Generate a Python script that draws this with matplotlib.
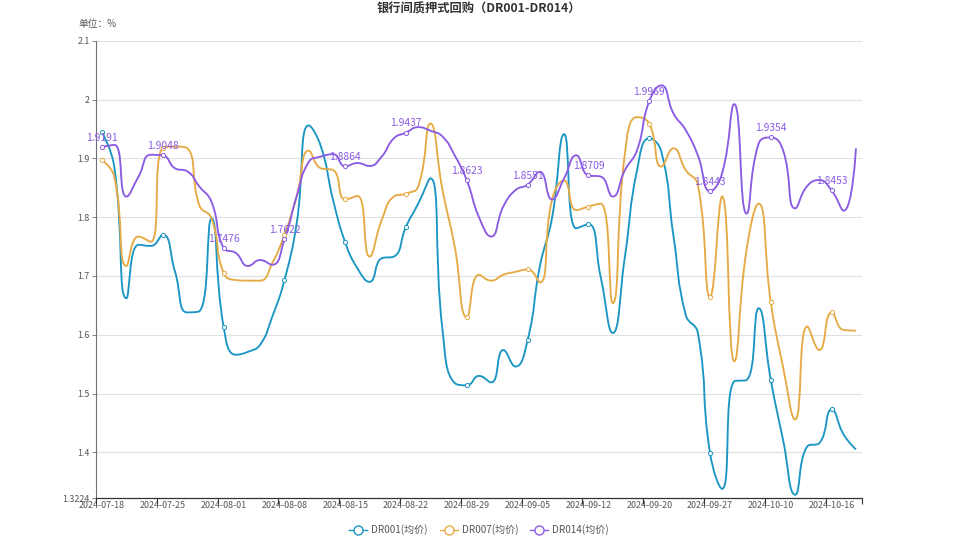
"""银行间质押式回购 DR001/DR007/DR014 走势图"""
import matplotlib
matplotlib.use("Agg")
import matplotlib.pyplot as plt
import numpy as np
from matplotlib.path import Path
from matplotlib.patches import PathPatch
from matplotlib.lines import Line2D

plt.rcParams["font.family"] = ["Noto Sans CJK SC", "DejaVu Sans"]

# ── 数据 ──
dates = [
    "2024-07-18", "2024-07-19", "2024-07-22", "2024-07-23", "2024-07-24",
    "2024-07-25", "2024-07-26", "2024-07-29", "2024-07-30", "2024-07-31",
    "2024-08-01", "2024-08-02", "2024-08-05", "2024-08-06", "2024-08-07",
    "2024-08-08", "2024-08-09", "2024-08-12", "2024-08-13", "2024-08-14",
    "2024-08-15", "2024-08-16", "2024-08-19", "2024-08-20", "2024-08-21",
    "2024-08-22", "2024-08-23", "2024-08-26", "2024-08-27", "2024-08-28",
    "2024-08-29", "2024-08-30", "2024-09-02", "2024-09-03", "2024-09-04",
    "2024-09-05", "2024-09-06", "2024-09-09", "2024-09-10", "2024-09-11",
    "2024-09-12", "2024-09-13", "2024-09-14", "2024-09-18", "2024-09-19",
    "2024-09-20", "2024-09-23", "2024-09-24", "2024-09-25", "2024-09-26",
    "2024-09-27", "2024-09-29", "2024-09-30", "2024-10-08", "2024-10-09",
    "2024-10-10", "2024-10-11", "2024-10-12", "2024-10-14", "2024-10-15",
    "2024-10-16", "2024-10-17", "2024-10-18",
]

dr001 = [
    1.944, 1.886, 1.662, 1.753, 1.751, 1.770, 1.707, 1.638, 1.640, 1.798,
    1.613, 1.566, 1.571, 1.583, 1.631, 1.693, 1.789, 1.956, 1.920, 1.829,
    1.757, 1.713, 1.690, 1.730, 1.733, 1.784, 1.823, 1.866, 1.608, 1.518,
    1.514, 1.530, 1.519, 1.574, 1.546, 1.591, 1.716, 1.798, 1.941, 1.781,
    1.788, 1.699, 1.603, 1.733, 1.880, 1.934, 1.911, 1.767, 1.634, 1.603,
    1.399, 1.338, 1.521, 1.523, 1.645, 1.523, 1.422, 1.328, 1.410, 1.416,
    1.473, 1.430, 1.405,
]

dr007 = [
    1.897, 1.869, 1.717, 1.767, 1.758, 1.918, 1.920, 1.917, 1.820, 1.798,
    1.705, 1.693, 1.692, 1.692, 1.722, 1.770, 1.835, 1.913, 1.883, 1.880,
    1.830, 1.836, 1.733, 1.795, 1.835, 1.840, 1.852, 1.959, 1.846, 1.750,
    1.630, 1.702, 1.692, 1.702, 1.707, 1.711, 1.689, 1.829, 1.862, 1.812,
    1.818, 1.823, 1.654, 1.908, 1.970, 1.959, 1.886, 1.917, 1.880, 1.855,
    1.665, 1.835, 1.555, 1.744, 1.823, 1.655, 1.546, 1.456, 1.614, 1.574,
    1.638, 1.608, 1.607,
]

dr014 = [
    1.9191, 1.923, 1.835, 1.869, 1.906, 1.9048, 1.883, 1.878, 1.852, 1.826,
    1.7476, 1.739, 1.717, 1.727, 1.719, 1.7622, 1.835, 1.894, 1.903, 1.907,
    1.8864, 1.892, 1.887, 1.903, 1.934, 1.9437, 1.953, 1.947, 1.937, 1.905,
    1.8623, 1.800, 1.767, 1.818, 1.846, 1.8551, 1.877, 1.830, 1.866, 1.905,
    1.8709, 1.869, 1.835, 1.880, 1.914, 1.9969, 2.024, 1.976, 1.948, 1.905,
    1.8443, 1.875, 1.992, 1.806, 1.925, 1.9354, 1.914, 1.815, 1.853, 1.863,
    1.8453, 1.811, 1.917,
]

series = [
    ("DR001(均价)", dr001, "#1b96c3"),
    ("DR007(均价)", dr007, "#e6aa45"),
    ("DR014(均价)", dr014, "#8b5be3"),
]

y_ticks = [1.3224, 1.4, 1.5, 1.6, 1.7, 1.8, 1.9, 2.0, 2.1]
y_tick_labels = ["1.3224", "1.4", "1.5", "1.6", "1.7", "1.8", "1.9", "2", "2.1"]
y_min, y_max = 1.3224, 2.1
label_step = 5

n = len(dates)
x = np.arange(n)

fig = plt.figure(figsize=(9.58, 5.39), dpi=100)
ax = fig.add_axes([96 / 958, 1 - 498 / 539, 766 / 958, (498 - 40.7) / 539])
ax.set_xlim(-0.5, n - 0.5)
ax.set_ylim(y_min, y_max)

# 像素比例（用于平滑曲线控制点计算）
sx = 766 / n
sy = (498 - 40.7) / (y_max - y_min)


def smooth_path(xs, ys, smooth=0.5):
    """echarts 风格的平滑贝塞尔曲线"""
    px = np.asarray(xs, float) * sx
    py = np.asarray(ys, float) * sy
    verts = [(px[0], py[0])]
    codes = [Path.MOVETO]
    cp0x, cp0y = px[0], py[0]
    m = len(px)
    for k in range(1, m):
        x0, y0 = px[k], py[k]
        prx, pry = px[k - 1], py[k - 1]
        if k == m - 1:
            cp1x, cp1y = x0, y0
            ncx, ncy = x0, y0
        else:
            nx_, ny_ = px[k + 1], py[k + 1]
            vx, vy = nx_ - prx, ny_ - pry
            lp = np.hypot(x0 - prx, y0 - pry)
            ln = np.hypot(nx_ - x0, ny_ - y0)
            r = ln / (ln + lp)
            ncx = x0 + vx * smooth * r
            ncy = y0 + vy * smooth * r
            ncx = max(min(ncx, max(nx_, x0)), min(nx_, x0))
            ncy = max(min(ncy, max(ny_, y0)), min(ny_, y0))
            vx, vy = ncx - x0, ncy - y0
            cp1x = x0 - vx * lp / ln
            cp1y = y0 - vy * lp / ln
            cp1x = max(min(cp1x, max(prx, x0)), min(prx, x0))
            cp1y = max(min(cp1y, max(pry, y0)), min(pry, y0))
            vx, vy = x0 - cp1x, y0 - cp1y
            ncx = x0 + vx * ln / lp
            ncy = y0 + vy * ln / lp
        verts += [(cp0x, cp0y), (cp1x, cp1y), (x0, y0)]
        codes += [Path.CURVE4] * 3
        cp0x, cp0y = ncx, ncy
    verts = [(a / sx, b / sy) for a, b in verts]
    return Path(verts, codes)


# 网格
for yt in y_ticks[1:]:
    ax.axhline(yt, color="#e0e0e0", linewidth=0.8, zorder=0)

handles = []
for name, vals, color in series:
    ax.add_patch(PathPatch(smooth_path(x, vals), fill=False, edgecolor=color,
                           linewidth=1.35, zorder=3))
    idx = x[::label_step]
    ax.plot(idx, np.asarray(vals)[::label_step], linestyle="none", marker="o",
            markersize=3.0, markerfacecolor="white", markeredgecolor=color,
            markeredgewidth=0.7, zorder=4)
    handles.append(Line2D([0], [0], color=color, linewidth=1.0, marker="o",
                          markersize=6.5, markerfacecolor="white",
                          markeredgecolor=color, markeredgewidth=1.0))

# DR014 数据标签
for i in x[::label_step]:
    ax.annotate(f"{dr014[i]:.4f}", xy=(i, dr014[i]), xytext=(0, 3.0),
                textcoords="offset points", ha="center", va="bottom",
                fontsize=7.4, color="#8b5be3", zorder=5)

# 坐标轴样式
for s in ["top", "right"]:
    ax.spines[s].set_visible(False)
ax.spines["left"].set_color("#6e7079")
ax.spines["left"].set_linewidth(0.8)
ax.spines["bottom"].set_color("#333333")
ax.spines["bottom"].set_linewidth(0.9)

ax.set_yticks(y_ticks)
ax.set_yticklabels(y_tick_labels)
ax.tick_params(axis="y", length=3, width=0.6, color="#6e7079",
               labelsize=6.4, labelcolor="#555555", pad=1.5)

ax.set_xticks(x[::label_step])
ax.set_xticklabels([dates[i] for i in x[::label_step]])
ax.tick_params(axis="x", which="major", length=0, labelsize=6.4,
               labelcolor="#555555", pad=2.5)
minor = list(np.arange(-0.5, n - 0.5, label_step)) + [n - 0.5]
ax.set_xticks(minor, minor=True)
ax.tick_params(axis="x", which="minor", length=4, width=0.8, color="#333333")

fig.text(0.5, 1 - 9 / 539, "银行间质押式回购（DR001-DR014）", ha="center", va="center",
         fontsize=8.8, fontweight="bold", color="#333333")
fig.text(78 / 958, 1 - 24 / 539, "单位：%", ha="left", va="center",
         fontsize=7, color="#555555")

fig.legend(handles, [s[0] for s in series], loc="center", ncol=3,
           bbox_to_anchor=(0.5, 1 - 530 / 539), frameon=False, fontsize=7.2,
           labelcolor="#555555", handlelength=1.8, handletextpad=0.4,
           columnspacing=1.2)

fig.savefig("out.png", dpi=100)
